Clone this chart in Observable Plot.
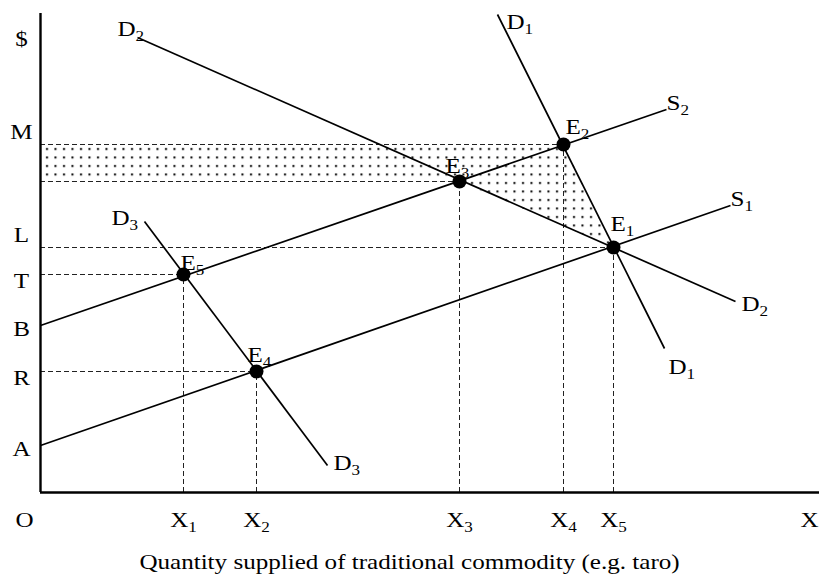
<!DOCTYPE html>
<html>
<head>
<meta charset="utf-8">
<script src="https://cdn.jsdelivr.net/npm/d3@7"></script>
<script src="https://cdn.jsdelivr.net/npm/@observablehq/plot@0.6"></script>
<style>
  html, body { margin: 0; padding: 0; background: #fff; }
  svg { font-family: "Liberation Serif", "Times New Roman", serif; }
</style>
</head>
<body>
<div id="chart"></div>
<script>
// Equilibrium points (quantity, price) in chart units
const equilibria = [
  {name: "E_1", x: 573, y: 245},
  {name: "E_2", x: 523, y: 348},
  {name: "E_3", x: 419, y: 311},
  {name: "E_4", x: 216, y: 121},
  {name: "E_5", x: 143, y: 218}
];
// Supply and demand curves (start and end points)
const curves = [
  {name: "S1", x1: 0,   y1: 47,  x2: 690, y2: 287},
  {name: "S2", x1: 0,   y1: 167, x2: 626, y2: 383},
  {name: "D1", x1: 457, y1: 478, x2: 624, y2: 144},
  {name: "D2", x1: 97,  y1: 455, x2: 695, y2: 191},
  {name: "D3", x1: 104, y1: 271, x2: 287, y2: 27}
];
// Curve end labels
const curveLabels = [
  {text: "D_2", x: 77,  y: 464},
  {text: "D_1", x: 466, y: 471},
  {text: "S_2", x: 626, y: 390},
  {text: "S_1", x: 690, y: 294},
  {text: "D_2", x: 701, y: 189},
  {text: "D_1", x: 628, y: 126},
  {text: "D_3", x: 71,  y: 275},
  {text: "D_3", x: 293, y: 30}
];
// Point labels
const pointLabels = [
  {text: "E_1", x: 570, y: 269},
  {text: "E_2", x: 525, y: 366},
  {text: "E_3", x: 405, y: 327},
  {text: "E_4", x: 207, y: 138},
  {text: "E_5", x: 140, y: 230}
];
// Price-axis labels
const yTickLabels = [
  {text: "$", y: 454},
  {text: "M", y: 361},
  {text: "L", y: 258},
  {text: "T", y: 212},
  {text: "B", y: 164},
  {text: "R", y: 115},
  {text: "A", y: 44}
];
// Quantity-axis labels
const xTickLabels = [
  {text: "O",   x: -16},
  {text: "X_1", x: 143},
  {text: "X_2", x: 216},
  {text: "X_3", x: 419},
  {text: "X_4", x: 523},
  {text: "X_5", x: 573},
  {text: "X",   x: 769}
];
const caption = "Quantity supplied of traditional commodity (e.g. taro)";

const byName = Object.fromEntries(equilibria.map(d => [d.name, d]));
const E1 = byName["E_1"], E2 = byName["E_2"], E3 = byName["E_3"];
// shaded region: rectangle between M and E3 price levels plus triangle E3-E2-E1
const shaded = [
  {x: 0, y: E2.y}, {x: E2.x, y: E2.y}, {x: E1.x, y: E1.y},
  {x: E3.x, y: E3.y}, {x: 0, y: E3.y}
];
const hDashed = [E2, E3, E1, byName["E_5"], byName["E_4"]];

const font = 22;
const chart = Plot.plot({
  width: 819,
  height: 583,
  marginLeft: 40,
  marginRight: 0,
  marginTop: 0,
  marginBottom: 91,
  x: {domain: [0, 779], axis: null},
  y: {domain: [0, 492], axis: null},
  marks: [
    Plot.line(shaded, {x: "x", y: "y", fill: "url(#dots)", stroke: "none"}),
    Plot.ruleY(hDashed, {y: "y", x1: 0, x2: "x", stroke: "#222", strokeWidth: 1, strokeDasharray: "5,3"}),
    Plot.ruleX(equilibria, {x: "x", y1: 0, y2: "y", stroke: "#222", strokeWidth: 1, strokeDasharray: "5,3"}),
    Plot.link(curves, {x1: "x1", y1: "y1", x2: "x2", y2: "y2", stroke: "black", strokeWidth: 1.7}),
    Plot.ruleX([0], {y1: 0, y2: 479, stroke: "black", strokeWidth: 2.4}),
    Plot.ruleY([0], {x1: 0, x2: 779, stroke: "black", strokeWidth: 2.4}),
    Plot.dot(equilibria, {x: "x", y: "y", r: 7, fill: "black", stroke: "none"}),
    Plot.text(curveLabels, {x: "x", y: "y", text: "text", textAnchor: "start", fontSize: font, fill: "black"}),
    Plot.text(pointLabels, {x: "x", y: "y", text: "text", textAnchor: "start", fontSize: font, fill: "black"}),
    Plot.text(yTickLabels, {x: -19, y: "y", text: "text", textAnchor: "middle", fontSize: font, fill: "black"}),
    Plot.text(xTickLabels, {x: "x", y: -27, text: "text", textAnchor: "middle", fontSize: font, fill: "black"}),
    Plot.text([caption], {frameAnchor: "bottom", x: 369, dy: 76, text: d => d, textAnchor: "middle", fontSize: font, fill: "black"})
  ]
});

// pattern for dotted shading
const ns = "http://www.w3.org/2000/svg";
const defs = document.createElementNS(ns, "defs");
defs.innerHTML = '<pattern id="dots" patternUnits="userSpaceOnUse" width="8.5" height="8.5">' +
  '<rect x="3" y="3" width="2" height="2" fill="black"/></pattern>';
chart.insertBefore(defs, chart.firstChild);

// subscripts and the wide letterforms of the original figure
chart.querySelectorAll("text").forEach(t => {
  const m = t.textContent.match(/^(.+)_(\d)$/);
  if (m) {
    t.textContent = m[1];
    const ts = document.createElementNS(ns, "tspan");
    ts.setAttribute("font-size", "15");
    ts.setAttribute("dy", "5");
    ts.textContent = m[2];
    t.appendChild(ts);
  }
  const tr = t.getAttribute("transform") || "";
  t.setAttribute("transform", `${tr} scale(1.14,1)`);
});

document.getElementById("chart").appendChild(chart);
</script>
</body>
</html>
